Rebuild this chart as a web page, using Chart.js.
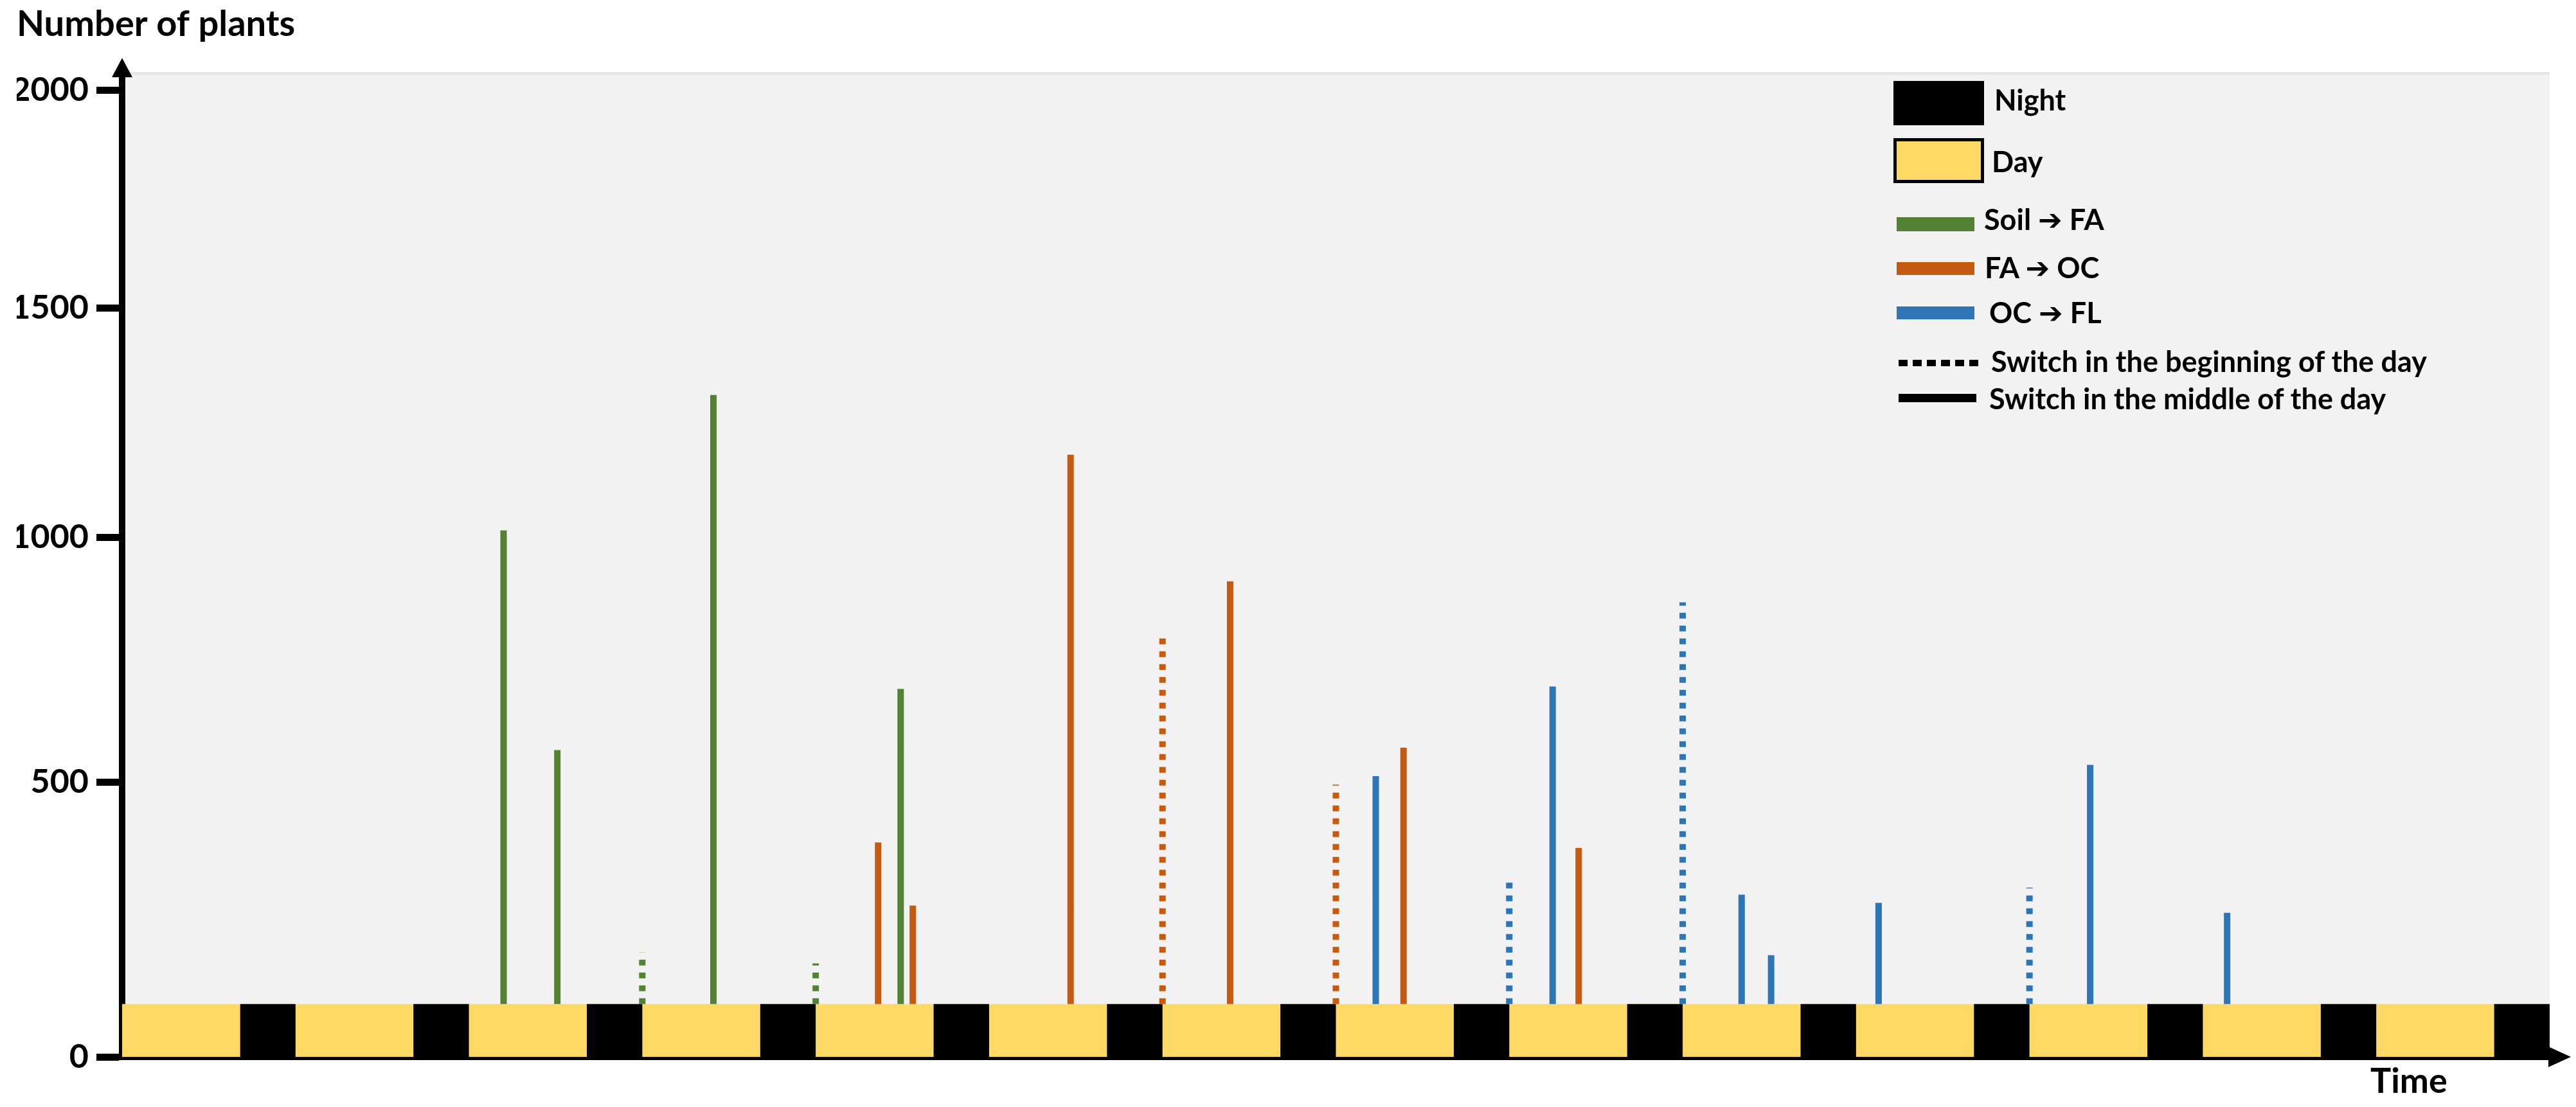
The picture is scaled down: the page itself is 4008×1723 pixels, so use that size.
<!DOCTYPE html>
<html>
<head>
<meta charset="utf-8">
<title>Number of plants</title>
<script src="https://cdn.jsdelivr.net/npm/chart.js@4.4.1/dist/chart.umd.min.js"></script>
<style>
html, body { margin: 0; padding: 0; background: #fff; }
#wrap { position: relative; width: 4008px; height: 1723px; overflow: hidden; }
#wrap canvas { position: absolute; left: 0; top: 0; }
.lbl { position: absolute; font-family: Lato, "DejaVu Sans", sans-serif; font-weight: bold; color: #000; line-height: 1; white-space: nowrap; }
.arr { font-family: "DejaVu Sans", sans-serif; font-weight: bold; }
.sw { position: absolute; box-sizing: border-box; }
</style>
</head>
<body>
<div id="wrap">
  <canvas id="plants_chart" width="4008" height="1723"></canvas>

  <!-- legend, top right of the plot -->
  <div class="sw" style="left:2946px; top:126px; width:141px; height:69px; background:#000;"></div>
  <div class="lbl" style="left:3103px; top:133px; font-size:45px;">Night</div>
  <div class="sw" style="left:2946px; top:215px; width:141px; height:70px; background:#ffd966; border:5px solid #000;"></div>
  <div class="lbl" style="left:3099px; top:229px; font-size:45px;">Day</div>
  <div class="sw" style="left:2951px; top:338px; width:121px; height:22px; background:#548235;"></div>
  <div class="lbl" style="left:3087px; top:319px; font-size:45px;">Soil <span class="arr">➔</span> FA</div>
  <div class="sw" style="left:2951px; top:408px; width:121px; height:20px; background:#c55a11;"></div>
  <div class="lbl" style="left:3088px; top:394px; font-size:45px;">FA <span class="arr">➔</span> OC</div>
  <div class="sw" style="left:2951px; top:477px; width:121px; height:20px; background:#2e75b6;"></div>
  <div class="lbl" style="left:3095px; top:464px; font-size:45px;">OC <span class="arr">➔</span> FL</div>
  <div class="sw" style="left:2954px; top:560px; width:125px; height:10px; background:repeating-linear-gradient(to right, #000 0 14px, transparent 14px 22px);"></div>
  <div class="lbl" style="left:3098px; top:540px; font-size:45px;">Switch in the beginning of the day</div>
  <div class="sw" style="left:2954px; top:613px; width:121px; height:13px; background:#000;"></div>
  <div class="lbl" style="left:3095px; top:598px; font-size:45px;">Switch in the middle of the day</div>

  <div class="lbl" style="left:3688px; top:1654px; font-size:54px;">Time</div>
</div>

<script>
// ---- data (x in days, y in number of plants) ----
var yTicks = [0, 500, 1000, 1500, 2000];
var daysShown = 14;
var stripTop = 96;   // the day/night strip reaches up to about 96 plants

var nightStart = [0.68, 1.68, 2.68, 3.68, 4.68, 5.68, 6.68, 7.68, 8.68, 9.68, 10.68, 11.68, 12.68, 13.68];
var nightEnd   = [1, 2, 3, 4, 5, 6, 7, 8, 9, 10, 11, 12, 13, 14];

// Soil -> FA
var soilFaMidDay     = [2.20, 2.51, 3.41, 4.49];
var soilFaMidCount   = [1015, 565, 1310, 690];
var soilFaStartDay   = [3, 4];
var soilFaStartCount = [190, 170];

// FA -> OC
var faOcMidDay     = [4.36, 4.56, 5.47, 6.39, 7.39, 8.40];
var faOcMidCount   = [390, 275, 1180, 910, 570, 380];
var faOcStartDay   = [6, 7];
var faOcStartCount = [800, 495];

// OC -> FL
var ocFlMidDay     = [7.23, 8.25, 9.34, 9.51, 10.13, 11.35, 12.14];
var ocFlMidCount   = [512, 695, 295, 185, 280, 535, 262];
var ocFlStartDay   = [8, 9, 11];
var ocFlStartCount = [318, 867, 308];

var green = '#548235', orange = '#c55a11', blue = '#2e75b6';

// the hand drawn y axis is not evenly spaced: where each value sits (0 = bottom, 1 = top)
var axisValues    = [0, 500, 1000, 1500, 2000, 2041];
var axisFractions = [0, 0.2792, 0.5277, 0.7606, 0.9817, 1];

function warp(v) {
    for (var i = 1; i < axisValues.length; i++) {
        if (v <= axisValues[i] || i == axisValues.length - 1) {
            var f = (v - axisValues[i-1]) / (axisValues[i] - axisValues[i-1]);
            return axisFractions[i-1] + f * (axisFractions[i] - axisFractions[i-1]);
        }
    }
}
function unwarp(d) {
    for (var i = 1; i < axisFractions.length; i++) {
        if (d <= axisFractions[i] || i == axisFractions.length - 1) {
            var f = (d - axisFractions[i-1]) / (axisFractions[i] - axisFractions[i-1]);
            return axisValues[i-1] + f * (axisValues[i] - axisValues[i-1]);
        }
    }
}

class WarpedScale extends Chart.LinearScale {
    getPixelForValue(value) {
        if (value === null || isNaN(value)) return NaN;
        return this.getPixelForDecimal(warp(value));
    }
    getValueForPixel(pixel) {
        return unwarp(this.getDecimalForPixel(pixel));
    }
}
WarpedScale.id = 'warped';
WarpedScale.defaults = Chart.LinearScale.defaults;
Chart.register(WarpedScale);

// one vertical stroke per switch, going up from the strip
function spikes(days, counts) {
    var pts = [];
    for (var i = 0; i < days.length; i++) {
        pts.push({x: days[i], y: stripTop}, {x: days[i], y: counts[i]}, {x: days[i], y: null});
    }
    return pts;
}

function spikeSet(label, days, counts, colour, dashed) {
    return {
        label: label,
        data: spikes(days, counts),
        borderColor: colour,
        borderWidth: 10,
        borderDash: dashed ? [9, 11] : [],
        borderCapStyle: 'butt',
        pointRadius: 0,
        spanGaps: false,
        fill: false
    };
}

function nightPoints() {
    var pts = [];
    for (var i = 0; i < nightStart.length; i++) {
        pts.push({x: nightStart[i], y: 0}, {x: nightStart[i], y: stripTop},
                 {x: nightEnd[i], y: stripTop}, {x: nightEnd[i], y: 0});
    }
    return pts;
}

var decor = {
    id: 'decor',
    beforeDraw: function(chart) {
        var ctx = chart.ctx, a = chart.chartArea;
        ctx.save();
        ctx.fillStyle = '#fff';
        ctx.fillRect(0, 0, chart.width, chart.height);
        ctx.fillStyle = '#f2f2f2';
        ctx.fillRect(a.left, a.top, a.right - a.left, a.bottom - a.top);
        ctx.fillStyle = '#e4e4e4';
        ctx.fillRect(a.left, a.top, a.right - a.left, 4);
        ctx.restore();
    },
    afterDraw: function(chart) {
        var ctx = chart.ctx, a = chart.chartArea;
        ctx.save();
        ctx.fillStyle = '#000';
        // arrow head on the y axis
        ctx.beginPath();
        ctx.moveTo(a.left, a.top - 22);
        ctx.lineTo(a.left - 16, a.top + 8);
        ctx.lineTo(a.left + 16, a.top + 8);
        ctx.closePath();
        ctx.fill();
        // arrow head on the time axis
        ctx.beginPath();
        ctx.moveTo(a.right + 33, a.bottom);
        ctx.lineTo(a.right - 2, a.bottom - 16);
        ctx.lineTo(a.right - 2, a.bottom + 16);
        ctx.closePath();
        ctx.fill();
        ctx.restore();
    }
};

Chart.defaults.font.family = 'Lato, "DejaVu Sans", sans-serif';
Chart.defaults.color = '#000';

var plants_chart = new Chart(document.getElementById('plants_chart'), {
    type: 'line',
    data: {
        datasets: [
            spikeSet('Soil ➔ FA, middle of the day', soilFaMidDay, soilFaMidCount, green, false),
            spikeSet('Soil ➔ FA, beginning of the day', soilFaStartDay, soilFaStartCount, green, true),
            spikeSet('FA ➔ OC, middle of the day', faOcMidDay, faOcMidCount, orange, false),
            spikeSet('FA ➔ OC, beginning of the day', faOcStartDay, faOcStartCount, orange, true),
            spikeSet('OC ➔ FL, middle of the day', ocFlMidDay, ocFlMidCount, blue, false),
            spikeSet('OC ➔ FL, beginning of the day', ocFlStartDay, ocFlStartCount, blue, true),
            {
                label: 'Night',
                data: nightPoints(),
                borderWidth: 0,
                backgroundColor: '#000',
                fill: 'origin',
                pointRadius: 0
            },
            {
                label: 'Day',
                data: [{x: 0, y: stripTop}, {x: daysShown, y: stripTop}],
                borderWidth: 0,
                backgroundColor: '#ffd966',
                fill: 'origin',
                pointRadius: 0
            }
        ]
    },
    options: {
        responsive: false,
        animation: false,
        devicePixelRatio: 1,
        layout: { padding: { left: 26, right: 41, top: 0, bottom: 0 } },
        plugins: {
            legend: { display: false },
            tooltip: { enabled: false },
            title: {
                display: true,
                text: 'Number of plants',
                align: 'start',
                color: '#000',
                font: { size: 56, weight: 'bold', lineHeight: 1.2 },
                padding: { top: 4, bottom: 41 }
            }
        },
        scales: {
            x: {
                type: 'linear',
                min: 0,
                max: daysShown,
                ticks: { display: false },
                grid: { drawOnChartArea: false, drawTicks: false },
                border: { display: true, color: '#000', width: 10 },
                afterFit: function(scale) { scale.height = 78; }
            },
            y: {
                type: 'warped',
                min: 0,
                max: 2041,
                afterBuildTicks: function(scale) {
                    scale.ticks = yTicks.map(function(v) { return {value: v}; });
                },
                afterFit: function(scale) { scale.width = 164; },
                ticks: {
                    padding: 12,
                    color: '#000',
                    font: { size: 52, weight: 'bold' },
                    callback: function(v) { return String(v); }
                },
                grid: {
                    drawOnChartArea: false,
                    drawTicks: true,
                    tickLength: 40,
                    tickWidth: 11,
                    tickColor: '#000'
                },
                border: { display: true, color: '#000', width: 10 }
            }
        }
    },
    plugins: [decor]
});
</script>
</body>
</html>
